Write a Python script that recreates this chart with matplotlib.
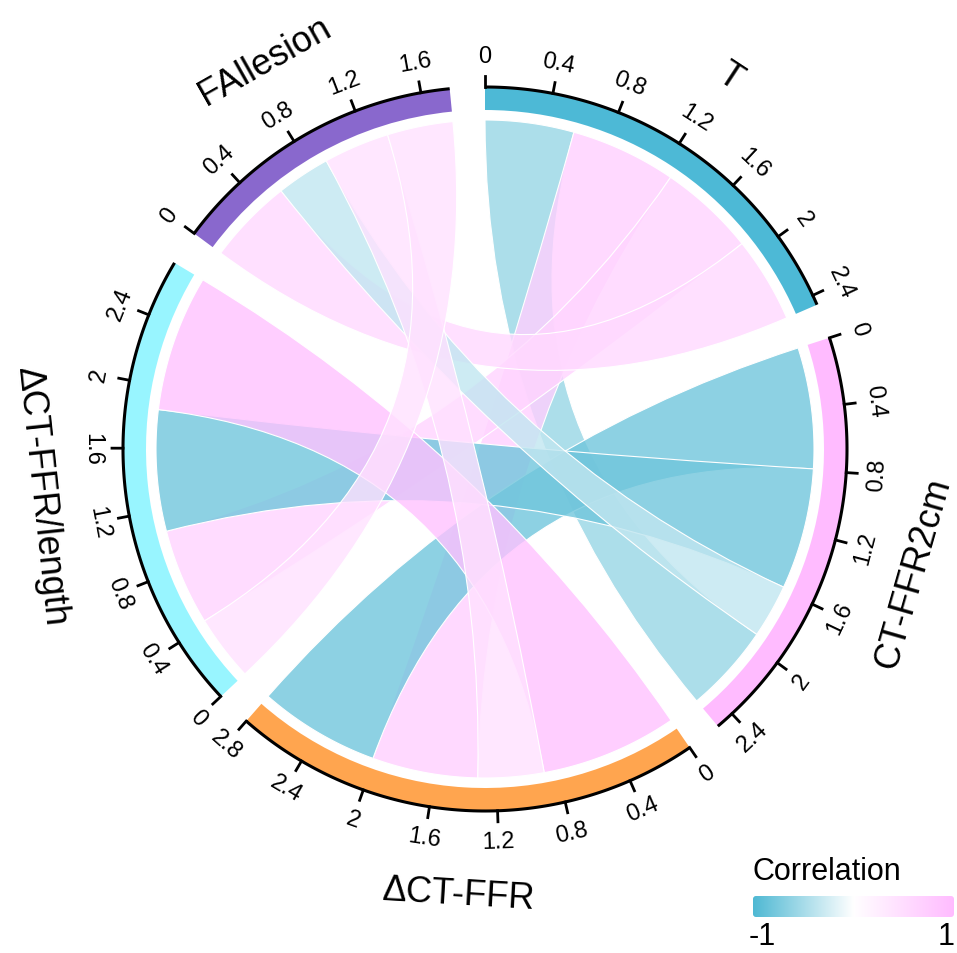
import numpy as np
import matplotlib.pyplot as plt
from matplotlib.path import Path
from matplotlib.patches import PathPatch, Wedge, FancyBboxPatch
from matplotlib.colors import LinearSegmentedColormap, Normalize

plt.rcParams['font.family'] = ['Liberation Sans', 'DejaVu Sans']

# Variables, clockwise from the top
names = ['T', 'CT-FFR2cm', 'ΔCT-FFR', 'ΔCT-FFR/length', 'FAllesion']
sector_colors = ['#4DB9D6', '#FFBBFF', '#FFA54F', '#98F5FF', '#8968CD']

# Correlation matrix (same order as names)
corr = [
    [1.00, -0.58, 0.69, 0.63, 0.56],
    [-0.58, 1.00, -0.79, -0.79, -0.35],
    [0.69, -0.79, 1.00, 0.89, 0.43],
    [0.63, -0.79, 0.89, 1.00, 0.43],
    [0.56, -0.35, 0.43, 0.43, 1.00],
]

# Layout params (pixel-like units, circle centre at 0,0)
gap_deg = 5.6
r_link = 329
r_in = 339
r_out = 362
tick_len = 11
r_ticklab = 393
r_name = 446
tick_step = 0.4
link_alpha = 0.8

cmap = LinearSegmentedColormap.from_list('corr', ['#4DB8D3', '#FFFFFF', '#FFBBFF'])
norm = Normalize(-1, 1)


def polar(r, deg):
    t = np.deg2rad(deg)
    return r * np.cos(t), r * np.sin(t)


def nice_rotation(deg):
    # text follows the circle, flipped on the lower half so it stays readable
    d = deg % 360
    rot = d - 90
    if 179.5 < d < 359.5:
        rot += 180
    return rot


def arc_points(r, a0, a1, n=60):
    t = np.deg2rad(np.linspace(a0, a1, n))
    return np.column_stack([r * np.cos(t), r * np.sin(t)])


def link_path(a0, a1, b0, b1):
    pa = arc_points(r_link, a0, a1)
    pb = arc_points(r_link, b0, b1)
    verts = [pa[0]] + list(pa[1:])
    codes = [Path.MOVETO] + [Path.LINETO] * (len(pa) - 1)
    verts += [(0, 0), pb[0]]
    codes += [Path.CURVE3, Path.CURVE3]
    verts += list(pb[1:])
    codes += [Path.LINETO] * (len(pb) - 1)
    verts += [(0, 0), pa[0], pa[0]]
    codes += [Path.CURVE3, Path.CURVE3, Path.CLOSEPOLY]
    return Path(verts, codes)


def main():
    mat = np.array(corr)
    n = len(names)
    totals = np.array([sum(abs(mat[i, j]) for j in range(n) if j != i) for i in range(n)])
    deg_per_unit = (360 - n * gap_deg) / totals.sum()

    starts = []
    a = 90.0
    for i in range(n):
        starts.append(a)
        a -= totals[i] * deg_per_unit + gap_deg

    def ang(i, u):
        return starts[i] - u * deg_per_unit

    # slot of each link inside a sector: partners taken clockwise after the sector
    slots = {}
    for i in range(n):
        u = 0.0
        for s in range(1, n):
            j = (i + s) % n
            w = abs(mat[i, j])
            slots[(i, j)] = (u, u + w)
            u += w

    fig = plt.figure(figsize=(9.57, 9.54), dpi=100)
    ax = fig.add_axes([0, 0, 1, 1])

    # links
    for i in range(n):
        for j in range(i + 1, n):
            r = mat[i, j]
            ua0, ua1 = slots[(i, j)]
            ub0, ub1 = slots[(j, i)]
            path = link_path(ang(i, ua0), ang(i, ua1), ang(j, ub0), ang(j, ub1))
            fc = list(cmap(norm(r)))
            fc[3] = link_alpha
            ax.add_patch(PathPatch(path, facecolor=fc, edgecolor='white', lw=0.8, zorder=2))

    # sector tracks, axis and labels
    for i in range(n):
        a0 = starts[i]
        a1 = ang(i, totals[i])
        ax.add_patch(Wedge((0, 0), r_out, a1, a0, width=r_out - r_in,
                           facecolor=sector_colors[i], edgecolor='none', zorder=3))
        axis_pts = arc_points(r_out, a0, a1, 120)
        ax.plot(axis_pts[:, 0], axis_pts[:, 1], color='black', lw=2.2, zorder=4,
                solid_capstyle='butt')
        for v in np.arange(0, totals[i] + 1e-9, tick_step):
            d = ang(i, v)
            x0, y0 = polar(r_out, d)
            x1, y1 = polar(r_out + tick_len, d)
            ax.plot([x0, x1], [y0, y1], color='black', lw=2, zorder=4)
            tx, ty = polar(r_ticklab, d)
            ax.text(tx, ty, '%g' % round(v, 1), fontsize=17, ha='center', va='center',
                    rotation=nice_rotation(d), rotation_mode='anchor')
        mid = (a0 + a1) / 2
        nx, ny = polar(r_name, mid)
        ax.text(nx, ny, names[i], fontsize=26, ha='center', va='center',
                rotation=nice_rotation(mid), rotation_mode='anchor')

    # colour legend
    grad = np.linspace(-1, 1, 256).reshape(1, -1)
    im = ax.imshow(grad, cmap=cmap, norm=norm, extent=(267, 470, -469, -446),
                   aspect='auto', zorder=5)
    box = FancyBboxPatch((268, -468), 201, 21, boxstyle='round,pad=0,rounding_size=3',
                         transform=ax.transData, facecolor='none', edgecolor='none')
    ax.add_patch(box)
    im.set_clip_path(box)
    ax.text(268, -422, 'Correlation', fontsize=22, ha='left', va='center')
    ax.text(277, -487, '-1', fontsize=22, ha='center', va='center')
    ax.text(461, -487, '1', fontsize=22, ha='center', va='center')

    ax.set_xlim(-485, 472)
    ax.set_ylim(-504, 450)
    ax.axis('off')
    fig.savefig('out.png', dpi=100, facecolor='white')


if __name__ == '__main__':
    main()
